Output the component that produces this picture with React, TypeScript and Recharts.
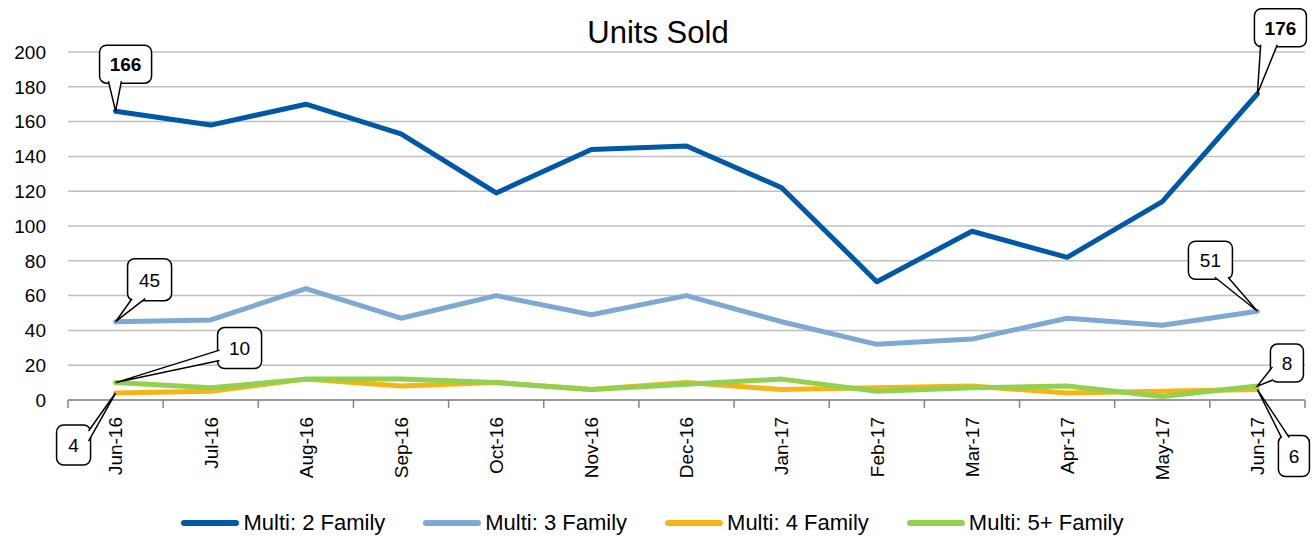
import React from "react"
import { LineChart, Line, XAxis, YAxis, CartesianGrid, Legend, LabelList } from "recharts"

const months = [
  "Jun-16", "Jul-16", "Aug-16", "Sep-16", "Oct-16", "Nov-16", "Dec-16",
  "Jan-17", "Feb-17", "Mar-17", "Apr-17", "May-17", "Jun-17",
]
const family2 = [166, 158, 170, 153, 119, 144, 146, 122, 68, 97, 82, 114, 176]
const family3 = [45, 46, 64, 47, 60, 49, 60, 45, 32, 35, 47, 43, 51]
const family4 = [4, 5, 12, 8, 10, 6, 10, 6, 7, 8, 4, 5, 6]
const family5 = [10, 7, 12, 12, 10, 6, 9, 12, 5, 7, 8, 2, 8]
const yTicks = [0, 20, 40, 60, 80, 100, 120, 140, 160, 180, 200]

const data = months.map((m, i) => ({
  month: m,
  f2: family2[i],
  f3: family3[i],
  f4: family4[i],
  f5: family5[i],
}))

const W = 1316
const H = 537
const M = { top: 52, right: 11, left: 0, bottom: 0 }
const Y_W = 68
const BAND = (W - M.right - Y_W) / months.length
const FONT = "'Liberation Sans', Arial, sans-serif"

const series = [
  { key: "f2", name: "Multi: 2 Family", color: "#0058A6" },
  { key: "f3", name: "Multi: 3 Family", color: "#7EA9D3" },
  { key: "f4", name: "Multi: 4 Family", color: "#F5B516" },
  { key: "f5", name: "Multi: 5+ Family", color: "#92D050" },
]

type Box = { dx: number; dy: number; w: number; h: number; side: string; a: number; b: number; bold?: boolean }

// callout boxes, offsets relative to the labelled point
const callouts: Record<string, Record<number, Box>> = {
  f2: {
    0: { dx: -16, dy: -66, w: 52, h: 38, side: "bottom", a: 0.17, b: 0.42, bold: true },
    12: { dx: -3, dy: -85, w: 52, h: 38, side: "bottom", a: 0.12, b: 0.44, bold: true },
  },
  f3: {
    0: { dx: 12, dy: -63, w: 44, h: 42, side: "bottom", a: 0.1, b: 0.4 },
    12: { dx: -69, dy: -70, w: 44, h: 38, side: "bottom", a: 0.6, b: 0.9 },
  },
  f4: {
    0: { dx: -59, dy: 32, w: 34, h: 40, side: "right", a: 0.15, b: 0.4 },
    12: { dx: 21, dy: 46, w: 31, h: 41, side: "top", a: 0.1, b: 0.35 },
  },
  f5: {
    0: { dx: 102, dy: -55, w: 44, h: 41, side: "left", a: 0.55, b: 0.8 },
    12: { dx: 13, dy: -42, w: 33, h: 38, side: "left", a: 0.6, b: 0.95 },
  },
}

const Callout = (props: any) => {
  const { x, y, value, index, skey } = props
  const c = callouts[skey]?.[index]
  if (!c || x == null || y == null) return null
  const bx = x + c.dx
  const by = y + c.dy
  let p1: number[], p2: number[]
  const inset = 2
  if (c.side === "bottom") {
    p1 = [bx + c.w * c.a, by + c.h - inset]
    p2 = [bx + c.w * c.b, by + c.h - inset]
  } else if (c.side === "top") {
    p1 = [bx + c.w * c.a, by + inset]
    p2 = [bx + c.w * c.b, by + inset]
  } else if (c.side === "left") {
    p1 = [bx + inset, by + c.h * c.a]
    p2 = [bx + inset, by + c.h * c.b]
  } else {
    p1 = [bx + c.w - inset, by + c.h * c.a]
    p2 = [bx + c.w - inset, by + c.h * c.b]
  }
  return (
    <g>
      <rect x={bx} y={by} width={c.w} height={c.h} rx={7} ry={7} fill="#fff" stroke="#000" strokeWidth={1.5} />
      <path d={`M${p1[0]},${p1[1]} L${x},${y} L${p2[0]},${p2[1]}`} fill="#fff" stroke="#000" strokeWidth={1.5} strokeLinejoin="miter" />
      <text
        x={bx + c.w / 2}
        y={by + c.h / 2}
        dy="0.36em"
        textAnchor="middle"
        fontFamily={FONT}
        fontSize={19}
        fontWeight={c.bold ? 700 : 400}
        fill="#000"
      >
        {value}
      </text>
    </g>
  )
}

const MonthTick = (props: any) => {
  const { x, y, payload, index } = props
  return (
    <g>
      <line x1={x - BAND / 2} y1={y} x2={x - BAND / 2} y2={y + 8} stroke="#868686" strokeWidth={1.5} />
      {index === months.length - 1 && (
        <line x1={x + BAND / 2} y1={y} x2={x + BAND / 2} y2={y + 8} stroke="#868686" strokeWidth={1.5} />
      )}
      <text
        transform={`translate(${x},${y + 17}) rotate(-90)`}
        textAnchor="end"
        dy="0.36em"
        fontFamily={FONT}
        fontSize={19}
        fill="#000"
      >
        {payload.value}
      </text>
    </g>
  )
}

const LegendContent = () => (
  <div
    style={{
      position: "relative",
      top: 6,
      display: "flex",
      justifyContent: "center",
      gap: 38,
      height: 40,
      alignItems: "center",
    }}
  >
    {series.map((s) => (
      <div key={s.key} style={{ display: "flex", alignItems: "center" }}>
        <svg width={58} height={10}>
          <line x1={3} y1={5} x2={55} y2={5} stroke={s.color} strokeWidth={6} strokeLinecap="round" />
        </svg>
        <span style={{ fontFamily: FONT, fontSize: 22, color: "#000", marginLeft: 4 }}>{s.name}</span>
      </div>
    ))}
  </div>
)

export default function App() {
  return (
    <div style={{ position: "absolute", left: 0, top: 0, width: W, height: H, background: "#fff" }}>
      <div
        style={{
          position: "absolute",
          top: 15,
          left: 0,
          width: W,
          textAlign: "center",
          fontFamily: FONT,
          fontSize: 31,
          color: "#000",
        }}
      >
        Units Sold
      </div>
      <LineChart width={W} height={H} data={data} margin={M}>
        <CartesianGrid vertical={false} stroke="#BFBFBF" strokeWidth={1.5} />
        <XAxis
          dataKey="month"
          interval={0}
          height={97}
          padding={{ left: BAND / 2, right: BAND / 2 }}
          tickLine={false}
          tickSize={0}
          tickMargin={0}
          axisLine={{ stroke: "#868686", strokeWidth: 1.5 }}
          tick={<MonthTick />}
        />
        <YAxis
          width={Y_W}
          domain={[0, 200]}
          ticks={yTicks}
          interval={0}
          axisLine={false}
          tickLine={false}
          tickSize={0}
          tickMargin={22}
          tick={{ fill: "#000", fontSize: 19, fontFamily: FONT }}
        />
        <Legend verticalAlign="bottom" height={40} content={<LegendContent />} />
        {series.map((s) => (
          <Line
            key={s.key}
            type="linear"
            dataKey={s.key}
            name={s.name}
            stroke={s.color}
            strokeWidth={5}
            strokeLinejoin="round"
            strokeLinecap="round"
            dot={false}
            activeDot={false}
            isAnimationActive={false}
          >
            <LabelList dataKey={s.key} content={(p: any) => <Callout {...p} skey={s.key} />} />
          </Line>
        ))}
      </LineChart>
    </div>
  )
}
